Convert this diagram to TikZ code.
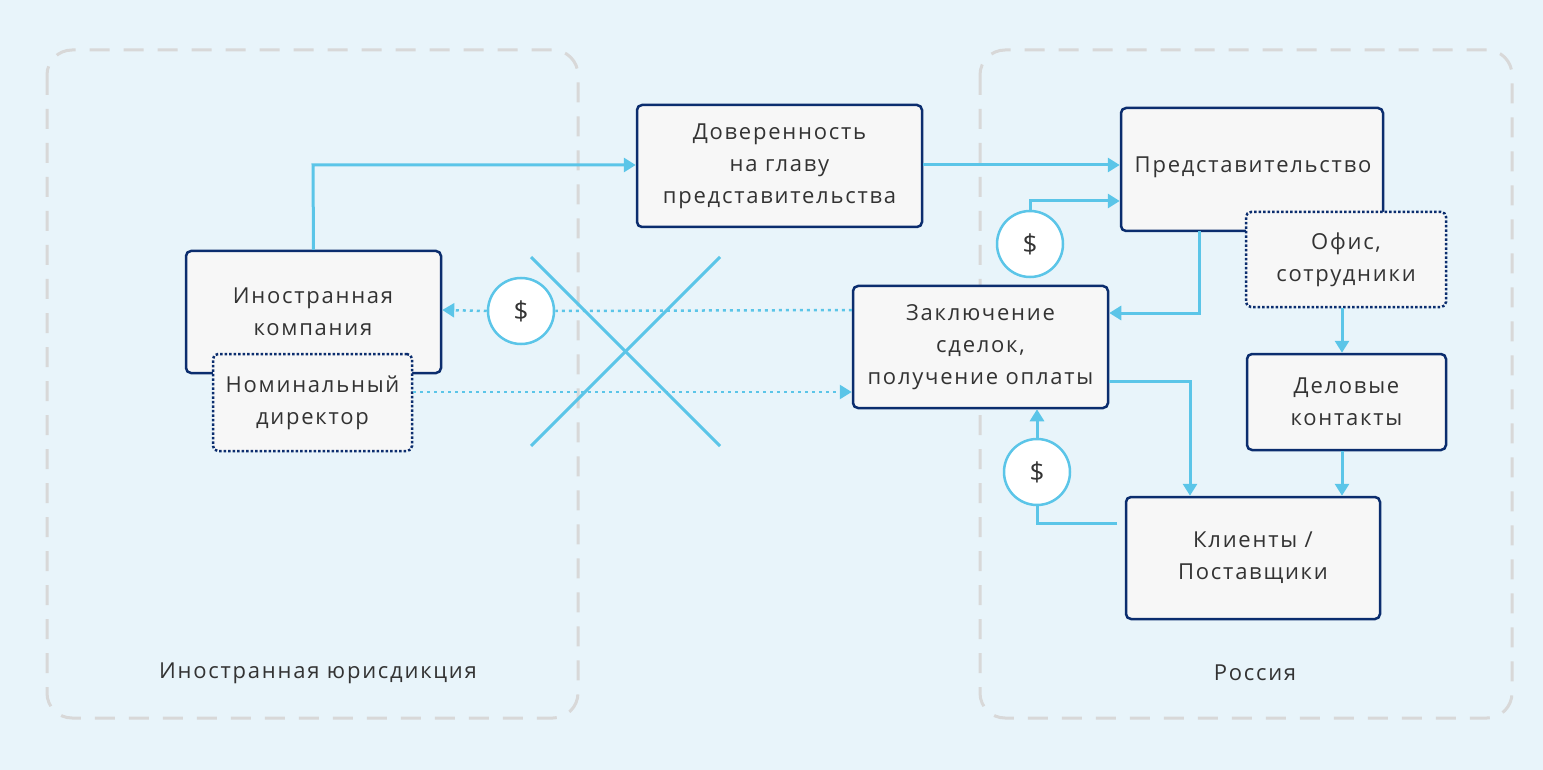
\documentclass[tikz,border=0pt]{standalone}
\usepackage{fontspec}
\setmainfont{Open Sans}[LetterSpace=8]
\usetikzlibrary{arrows.meta}
\definecolor{bg}{HTML}{E8F4FA}
\definecolor{nv}{HTML}{0B2D6E}
\definecolor{ar}{HTML}{5BC5E8}
\definecolor{tx}{HTML}{333333}
\definecolor{rg}{HTML}{D8D8D8}
\begin{document}
\begin{tikzpicture}[x=1pt,y=-1pt,
 box/.style={draw=nv,line width=2.5pt,fill=white!97!black,rounded corners=5pt,text=tx,font=\fontsize{22}{32}\selectfont,align=center,inner sep=0pt},
 dbox/.style={box,dotted,line width=2.5pt},
 reg/.style={draw=rg,line width=3pt,dash pattern=on 20pt off 14pt,rounded corners=25pt},
 arr/.style={draw=ar,line width=3pt,-{Triangle[length=12pt,width=14pt]}},
 ln/.style={draw=ar,line width=3pt},
 dl/.style={dash pattern=on 3pt off 4pt,line width=2.5pt},
 dol/.style={circle,draw=ar,line width=2.5pt,fill=white,minimum size=66pt,inner sep=0pt,font=\fontsize{26}{30}\selectfont,text=tx},
 lab/.style={text=tx,font=\fontsize{22}{26}\selectfont}]
\fill[bg] (0,0) rectangle (1543,770);
\useasboundingbox (0,0) rectangle (1543,770);
\draw[reg] (47,50) rectangle (578,718);
\draw[reg] (980,50) rectangle (1512,718);
\node[lab] (lj) at (318,673) {Иностранная юрисдикция};
\node[lab] (lr) at (1255,673) {Россия};
% cross
\draw[ln] (531,257) -- (720,446);
\draw[ln] (531,446) -- (720,257);
% boxes
\node[box,minimum width=285pt,minimum height=122pt] (dov) at (779.5,166) {Доверенность\\на главу\\представительства};
\node[box,minimum width=262pt,minimum height=123pt] (pred) at (1252,169.5) {};
\node[lab] (predt) at (1253,167) {Представительство};
\node[box,minimum width=255pt,minimum height=122pt] (ik) at (313.5,312) {};
\node[lab,align=center,font=\fontsize{22}{32}\selectfont] (ikt) at (313,312) {Иностранная\\компания};
\node[dbox,minimum width=200pt,minimum height=95pt] (of) at (1346,259.5) {Офис,\\сотрудники};
\node[dbox,minimum width=199pt,minimum height=97pt] (nom) at (312.5,402.5) {Номинальный\\директор};
\node[box,minimum width=255pt,minimum height=122pt] (zak) at (980.5,347) {Заключение\\сделок,\\получение оплаты};
\node[box,minimum width=199pt,minimum height=96pt] (del) at (1346.5,402) {Деловые\\контакты};
\node[box,minimum width=254pt,minimum height=122pt] (kl) at (1253,558) {Клиенты /\\Поставщики};
\node[dol] (d1) at (1030,244) {\$};
\node[dol] (d2) at (521,311) {\$};
\node[dol] (d3) at (1037,472) {\$};
\coordinate (k1) at (1117,523);
% arrows
\draw[arr] (ik.north) -- (313,165) -- (dov.west |- 0,165);
\draw[arr] (dov.east |- 0,165) -- (pred.west |- 0,165);
\draw[arr] (d1.north) -- (1030,201) -- (pred.west |- 0,201);
\draw[arr] (1199,231) -- (1199,313) -- (zak.east |- 0,313);
\draw[arr] (of.south -| 1342,0) -- (del.north -| 1342,0);
\draw[arr] (del.south -| 1342,0) -- (kl.north -| 1342,0);
\draw[arr] (zak.east |- 0,381) -- (1190,381) -- (kl.north -| 1190,0);
\draw[ln] (k1) -- (1037,523) -- (d3.south);
\draw[arr] (d3.north) -- (zak.south -| 1037,0);
\draw[ln,dl] (zak.west |- 0,310) -- (d2.east);
\draw[arr,dl] (d2.west) -- (ik.east |- 0,310);
\draw[arr,dl] (nom.east |- 0,392) -- (zak.west |- 0,392);
\end{tikzpicture}
\end{document}
